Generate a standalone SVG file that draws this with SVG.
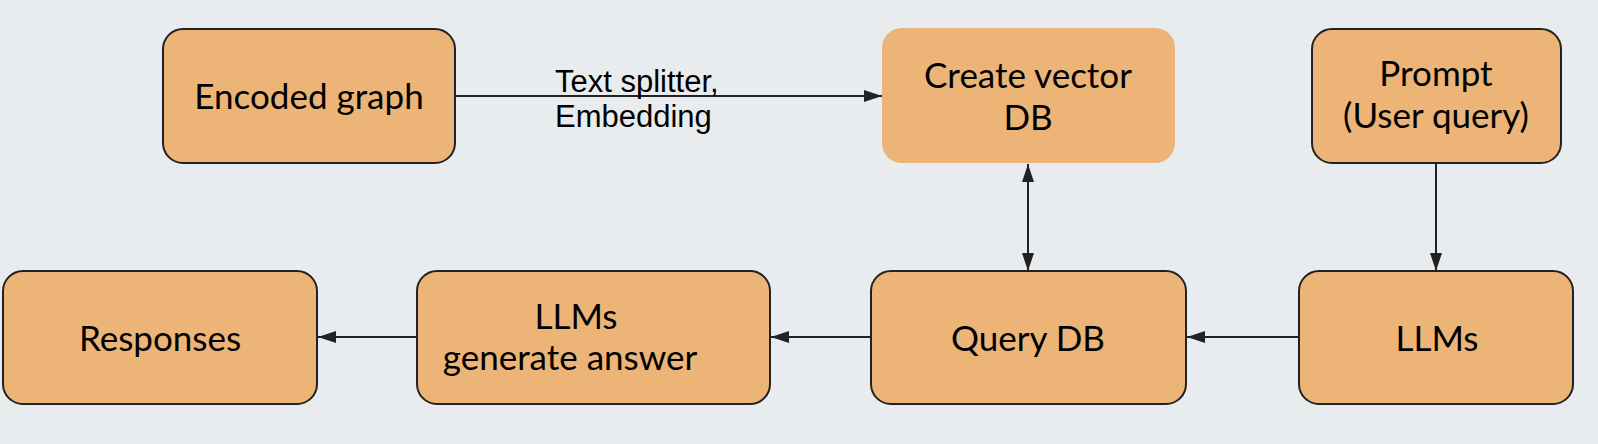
<svg xmlns="http://www.w3.org/2000/svg" width="1598" height="444" viewBox="0 0 1598 444">
  <defs>
    <style>
      .box { fill: #ECB476; stroke: #222222; stroke-width: 2; }
      .box-plain { fill: #ECB476; stroke: none; }
      .t { font-family: Lato, "Liberation Sans", sans-serif; font-size: 35px; fill: #000000; text-anchor: middle; }
      .lbl { font-family: "Liberation Sans", Arial, sans-serif; font-size: 31px; fill: #000000; }
      .edge { stroke: #222222; stroke-width: 2; fill: none; }
    </style>
    <marker id="ah" viewBox="0 0 18 12" refX="18" refY="6" markerWidth="18" markerHeight="12" markerUnits="userSpaceOnUse" orient="auto-start-reverse">
      <path d="M0,0 L18,6 L0,12 Z" fill="#222222"/>
    </marker>
  </defs>
  <rect x="0" y="0" width="1598" height="444" fill="#E8ECEE"/>

  <g id="connectors">
    <line class="edge" x1="455" y1="96" x2="882" y2="96" marker-end="url(#ah)"/>
    <line class="edge" x1="1028" y1="164" x2="1028" y2="271" marker-start="url(#ah)" marker-end="url(#ah)"/>
    <line class="edge" x1="1436" y1="163" x2="1436" y2="271" marker-end="url(#ah)"/>
    <line class="edge" x1="1299" y1="337" x2="1187" y2="337" marker-end="url(#ah)"/>
    <line class="edge" x1="871" y1="337" x2="771" y2="337" marker-end="url(#ah)"/>
    <line class="edge" x1="417" y1="337" x2="318" y2="337" marker-end="url(#ah)"/>
    <text class="lbl" x="555" y="92">Text splitter,</text>
    <text class="lbl" x="555" y="127">Embedding</text>
  </g>

  <g id="node-encoded-graph">
    <rect class="box" x="163" y="29" width="292" height="134" rx="20"/>
    <text class="t" x="309" y="109">Encoded graph</text>
  </g>

  <g id="node-create-vector-db">
    <rect class="box-plain" x="882" y="28" width="293" height="135" rx="20"/>
    <text class="t" x="1028" y="88">Create vector</text>
    <text class="t" x="1028" y="130">DB</text>
  </g>

  <g id="node-prompt">
    <rect class="box" x="1312" y="29" width="249" height="134" rx="20"/>
    <text class="t" x="1436" y="86">Prompt</text>
    <text class="t" x="1436" y="128">(User query)</text>
  </g>

  <g id="node-responses">
    <rect class="box" x="3" y="271" width="314" height="133" rx="20"/>
    <text class="t" x="160" y="351">Responses</text>
  </g>

  <g id="node-llms-generate">
    <rect class="box" x="417" y="271" width="353" height="133" rx="20"/>
    <text class="t" x="576" y="329">LLMs</text>
    <text class="t" x="570" y="370">generate answer</text>
  </g>

  <g id="node-query-db">
    <rect class="box" x="871" y="271" width="315" height="133" rx="20"/>
    <text class="t" x="1028" y="351">Query DB</text>
  </g>

  <g id="node-llms">
    <rect class="box" x="1299" y="271" width="274" height="133" rx="20"/>
    <text class="t" x="1437" y="351">LLMs</text>
  </g>
</svg>
